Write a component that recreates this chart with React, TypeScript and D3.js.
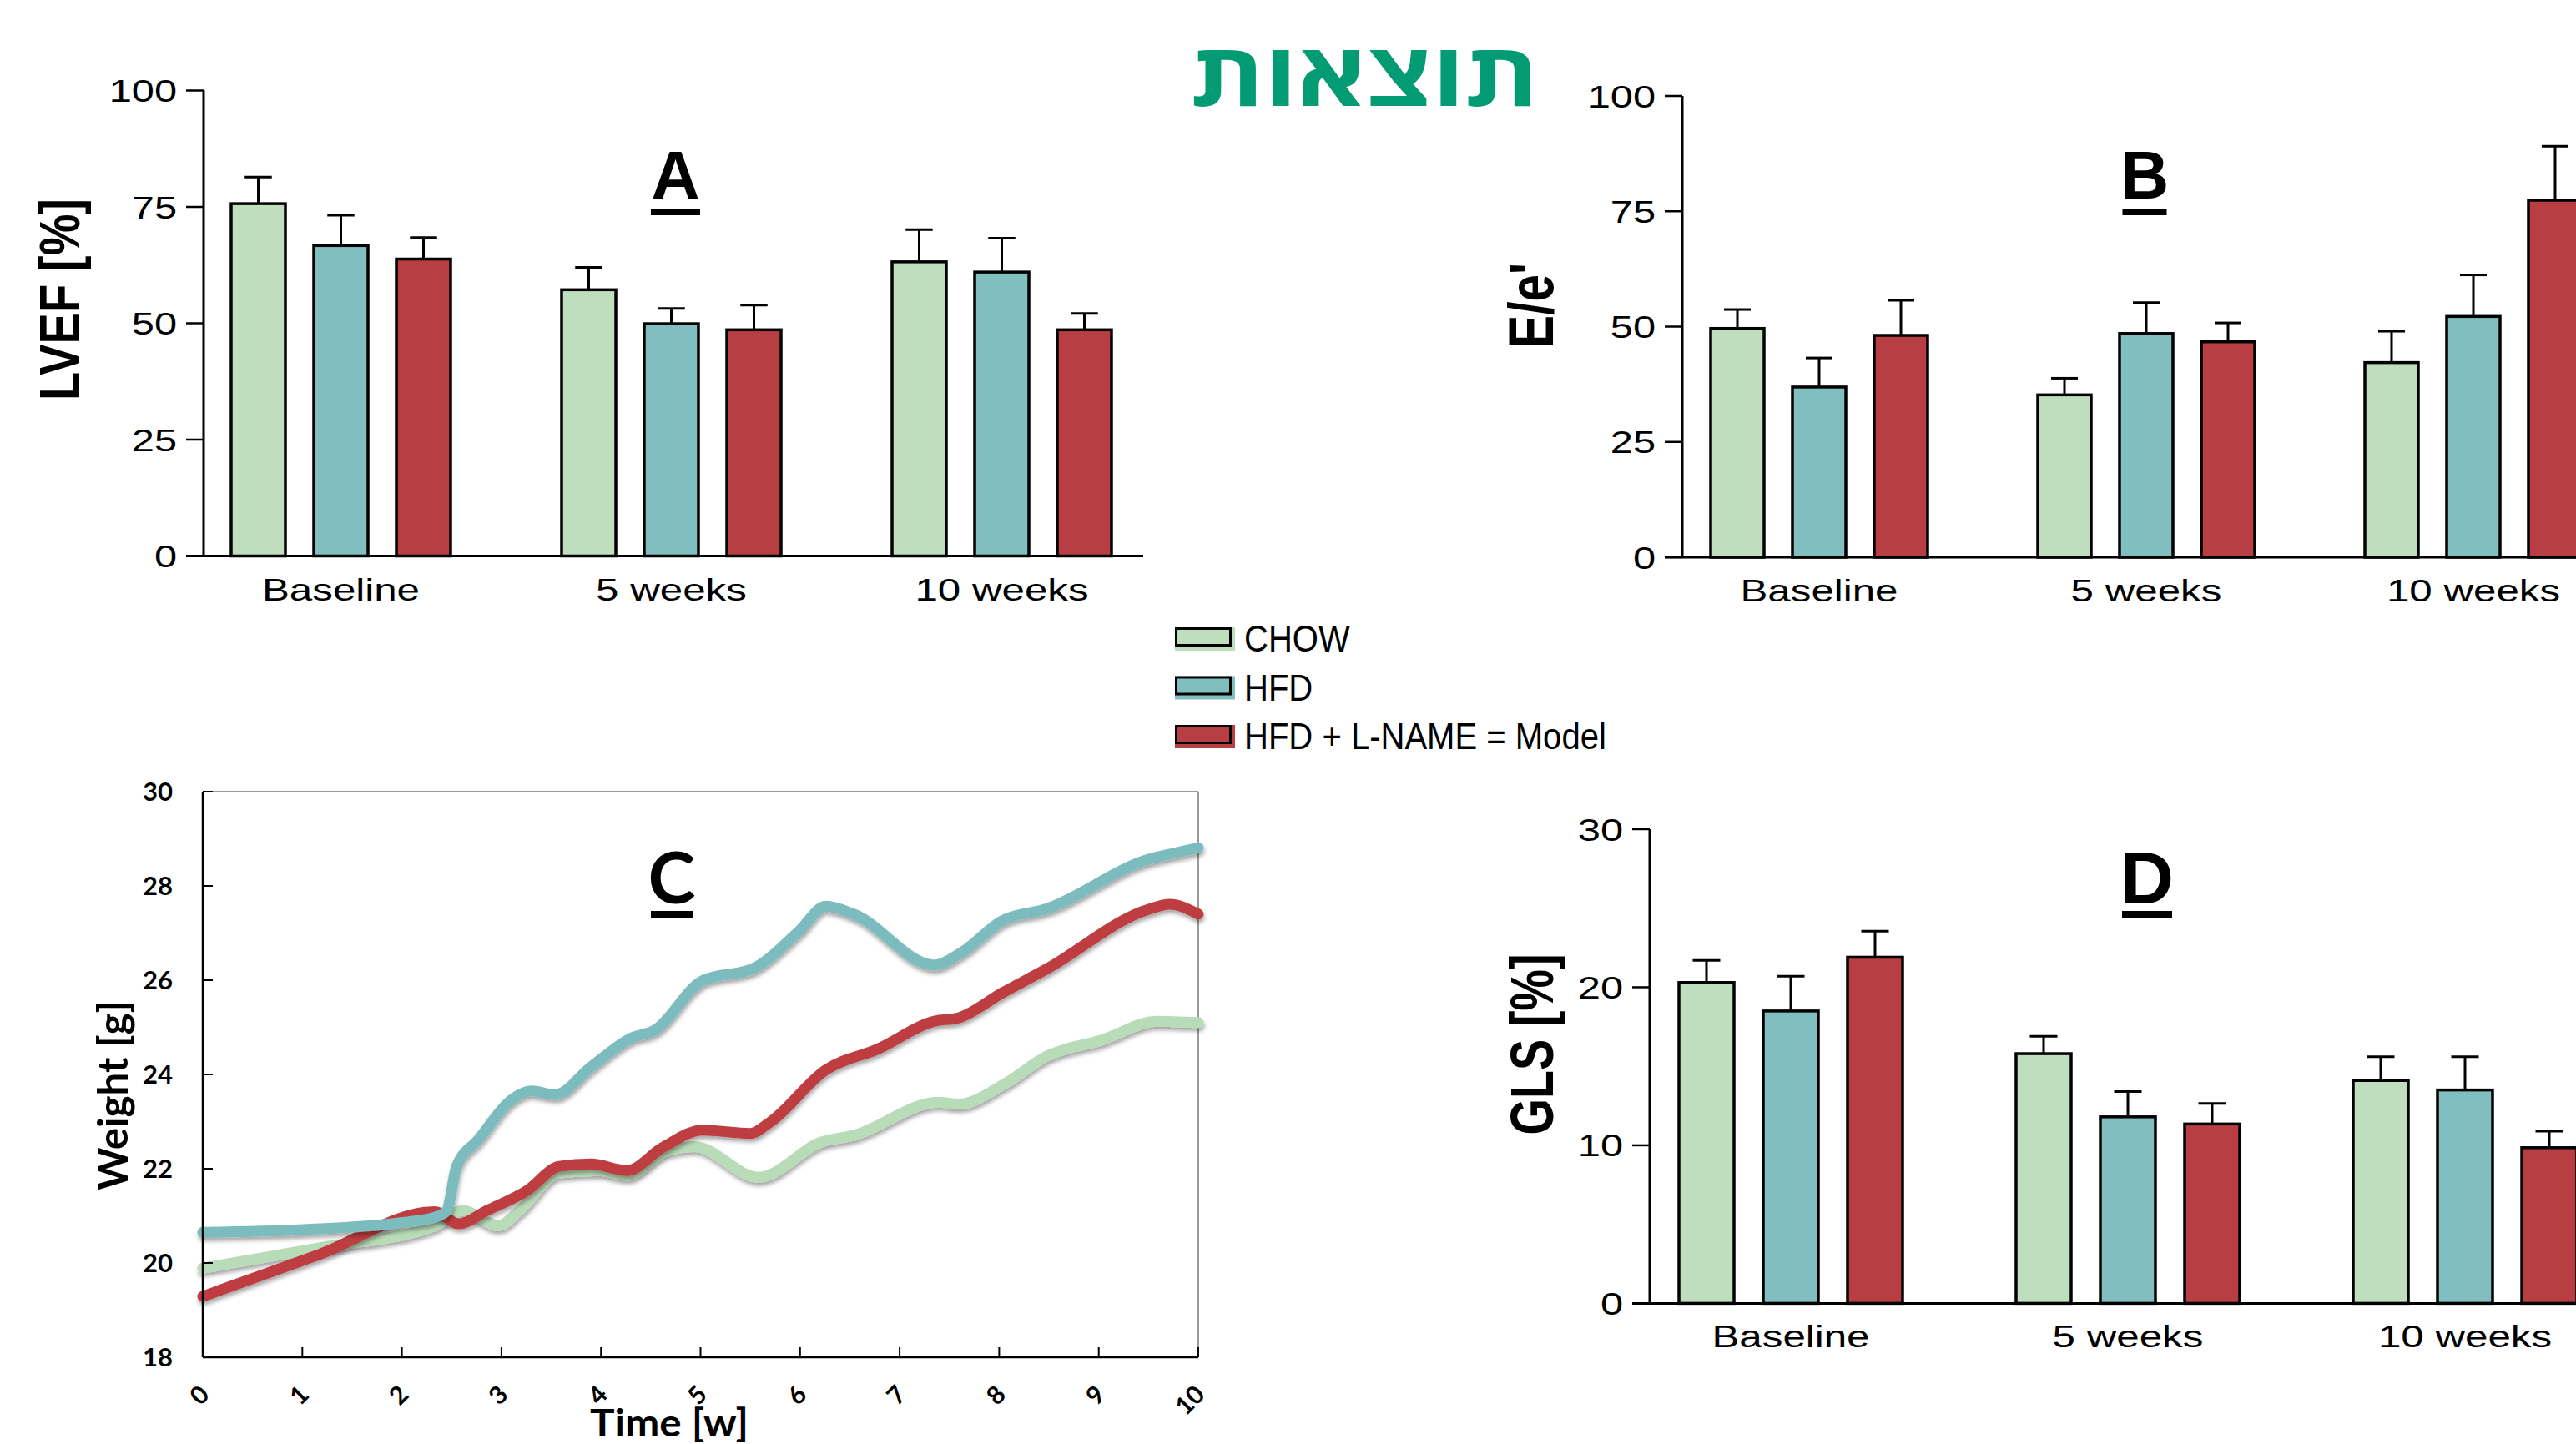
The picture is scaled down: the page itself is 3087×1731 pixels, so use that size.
import React from "react";
import * as d3 from "d3";

// ---------- DATA ----------
const categories = ["Baseline", "5 weeks", "10 weeks"];
const groupNames = ["CHOW", "HFD", "HFD + L-NAME = Model"];

// Panel A: LVEF [%]
const lvefChow = [75.7, 57.2, 63.2];
const lvefHfd = [66.7, 49.9, 61.0];
const lvefModel = [63.8, 48.6, 48.6];
const lvefChowErr = [5.7, 4.8, 6.9];
const lvefHfdErr = [6.5, 3.3, 7.3];
const lvefModelErr = [4.6, 5.3, 3.5];
const lvefTicks = [0, 25, 50, 75, 100];

// Panel B: E/e'
const eeChow = [49.6, 35.2, 42.2];
const eeHfd = [36.9, 48.5, 52.2];
const eeModel = [48.1, 46.7, 77.4];
const eeChowErr = [4.1, 3.6, 6.8];
const eeHfdErr = [6.3, 6.7, 9.0];
const eeModelErr = [7.6, 4.1, 11.7];
const eeTicks = [0, 25, 50, 75, 100];

// Panel D: GLS [%]
const glsChow = [20.3, 15.8, 14.1];
const glsHfd = [18.5, 11.8, 13.5];
const glsModel = [21.9, 11.35, 9.85];
const glsChowErr = [1.4, 1.1, 1.5];
const glsHfdErr = [2.2, 1.6, 2.1];
const glsModelErr = [1.65, 1.3, 1.05];
const glsTicks = [0, 10, 20, 30];

// Panel C: weight [g] over time [w]
const chowWeeks = [0, 1.17, 2.33, 2.61, 2.97, 3.18, 3.58, 3.98, 4.26, 4.66, 4.94, 5.58, 6.22, 6.54, 7.39, 7.59, 8.07, 8.47, 9.03, 9.59, 10];
const chowWeight = [19.89, 20.32, 20.79, 21.11, 20.79, 21.11, 21.91, 21.96, 21.86, 22.38, 22.47, 21.82, 22.57, 22.71, 23.41, 23.37, 23.82, 24.38, 24.73, 25.13, 25.1];
const hfdWeeks = [0, 1.01, 1.97, 2.33, 2.45, 2.55, 2.77, 3.1, 3.3, 3.54, 3.9, 4.3, 4.54, 5.02, 5.54, 5.98, 6.26, 6.54, 7.35, 7.63, 8.03, 8.47, 9.51, 9.75, 10];
const hfdWeight = [20.65, 20.71, 20.85, 20.97, 21.11, 22.05, 22.62, 23.46, 23.65, 23.57, 24.16, 24.77, 24.94, 25.99, 26.26, 27.02, 27.57, 27.4, 26.32, 26.6, 27.26, 27.51, 28.57, 28.69, 28.81];
const modelWeeks = [0, 1.17, 2.33, 2.57, 2.85, 3.26, 3.58, 3.9, 4.26, 4.62, 5.02, 5.5, 5.7, 6.26, 6.78, 7.35, 7.59, 8.03, 8.47, 9.51, 9.71, 10];
const modelWeight = [19.29, 20.18, 21.09, 20.83, 21.11, 21.54, 22.05, 22.1, 21.96, 22.45, 22.82, 22.75, 22.99, 24.1, 24.54, 25.13, 25.2, 25.73, 26.23, 27.51, 27.61, 27.4];
const weekTicks = [0, 1, 2, 3, 4, 5, 6, 7, 8, 9, 10];
const weightTicks = [18, 20, 22, 24, 26, 28, 30];

// ---------- STYLE ----------
const barColors = ["#BEDEBD", "#81BEBF", "#B73E42"];
const lineColors = ["#B9DCB8", "#7BBCBE", "#BD3E40"];
const titleGreen = "#039B74";
const SANS = "'Liberation Sans', Arial, sans-serif";
const LATO = "Lato, 'Open Sans', sans-serif";

type BarPanelProps = {
  means: number[][];
  errs: number[][];
  ticks: number[];
  axisX: number;
  yTop: number;
  yBottom: number;
  xEnd: number;
  groupCenter0: number;
  groupStep: number;
  barStep: number;
  barW: number;
  labelY: number;
  title: string;
  titleX: number;
  titleBase: number;
  titleSize: number;
  ulW: number;
  ulGap: number;
  yTitle: string;
  yTitleX: number;
  yTitleY: number;
  yTitleSize: number;
  yTitleLen: number;
  yTitleSx: number;
};

function BarPanel(p: BarPanelProps) {
  const yMax = p.ticks[p.ticks.length - 1];
  const y = d3.scaleLinear().domain([0, yMax]).range([p.yBottom, p.yTop]);
  const outer = d3
    .scaleBand<string>()
    .domain(categories)
    .range([p.groupCenter0 - p.groupStep * 0.5, p.groupCenter0 + p.groupStep * 2.5])
    .padding(0);
  const pin = 1 - p.barW / p.barStep;
  const inner = d3
    .scaleBand<string>()
    .domain(groupNames)
    .range([-p.barStep * 1.5, p.barStep * 1.5])
    .paddingInner(pin)
    .paddingOuter(pin / 2);
  const capW = p.barW * 0.5;
  return (
    <g>
      {categories.map((c, ci) =>
        groupNames.map((g, gi) => {
          const cx = (outer(c) as number) + outer.bandwidth() / 2;
          const bx = cx + (inner(g) as number);
          const v = p.means[gi][ci];
          const e = p.errs[gi][ci];
          const mx = bx + inner.bandwidth() / 2;
          return (
            <g key={c + g}>
              <line x1={mx} x2={mx} y1={y(v)} y2={y(v + e)} stroke="#000" strokeWidth={3} />
              <line x1={mx - capW / 2} x2={mx + capW / 2} y1={y(v + e)} y2={y(v + e)} stroke="#000" strokeWidth={3} />
              <rect
                x={bx}
                y={y(v)}
                width={inner.bandwidth()}
                height={y(0) - y(v)}
                fill={barColors[gi]}
                stroke="#000"
                strokeWidth={3.5}
              />
            </g>
          );
        })
      )}
      <line x1={p.axisX} x2={p.axisX} y1={p.yTop} y2={p.yBottom} stroke="#000" strokeWidth={3} />
      <line x1={p.axisX - 21} x2={p.xEnd} y1={p.yBottom} y2={p.yBottom} stroke="#000" strokeWidth={3} />
      {p.ticks.map((t) => (
        <g key={t}>
          <line x1={p.axisX - 21} x2={p.axisX} y1={y(t)} y2={y(t)} stroke="#000" strokeWidth={2.5} />
          <text
            transform={`translate(${p.axisX - 32},${y(t)}) scale(1.3,1)`}
            textAnchor="end"
            dy="0.36em"
            fontSize={37.5}
            fontFamily={SANS}
          >
            {t}
          </text>
        </g>
      ))}
      {categories.map((c) => {
        const cx = (outer(c) as number) + outer.bandwidth() / 2;
        return (
          <text
            key={c}
            transform={`translate(${cx},${p.labelY}) scale(1.35,1)`}
            textAnchor="middle"
            dy="0.36em"
            fontSize={36.5}
            fontFamily={SANS}
          >
            {c}
          </text>
        );
      })}
      <text x={p.titleX} y={p.titleBase} textAnchor="middle" fontSize={p.titleSize} fontWeight="bold" fontFamily={SANS}>
        {p.title}
      </text>
      <rect x={p.titleX - p.ulW / 2} y={p.titleBase + p.ulGap} width={p.ulW} height={8} fill="#000" />
      <text
        transform={`translate(${p.yTitleX},${p.yTitleY}) scale(${p.yTitleSx},1) rotate(-90)`}
        textAnchor="middle"
        dominantBaseline="central"
        fontSize={p.yTitleSize}
        fontWeight="bold"
        fontFamily={SANS}
        textLength={p.yTitleLen}
        lengthAdjust="spacingAndGlyphs"
      >
        {p.yTitle}
      </text>
    </g>
  );
}

function WeightPanel() {
  const x = d3.scaleLinear().domain([0, 10]).range([243, 1436]);
  const y = d3.scaleLinear().domain([18, 30]).range([1627, 949]);
  const line = d3
    .line<[number, number]>()
    .x((d) => x(d[0]))
    .y((d) => y(d[1]))
    .curve(d3.curveMonotoneX);
  const series: [number[], number[]][] = [
    [chowWeeks, chowWeight],
    [modelWeeks, modelWeight],
    [hfdWeeks, hfdWeight],
  ];
  const colorIdx = [0, 2, 1];
  return (
    <g>
      <defs>
        <filter id="shadow" x="-5%" y="-5%" width="110%" height="120%">
          <feDropShadow dx="1" dy="4" stdDeviation="2.5" floodColor="#000" floodOpacity="0.35" />
        </filter>
      </defs>
      <line x1={243} x2={1436} y1={949} y2={949} stroke="#9a9a9a" strokeWidth={2} />
      <line x1={1436} x2={1436} y1={949} y2={1627} stroke="#9a9a9a" strokeWidth={2} />
      {series.map(([wk, wt], i) => (
        <path
          key={i}
          d={line(wk.map((w, j) => [w, wt[j]] as [number, number])) || ""}
          fill="none"
          stroke={lineColors[colorIdx[i]]}
          strokeWidth={13}
          strokeLinejoin="round"
          strokeLinecap="round"
          filter="url(#shadow)"
        />
      ))}
      <line x1={243} x2={243} y1={949} y2={1627} stroke="#000" strokeWidth={2.5} />
      <line x1={243} x2={1436} y1={1627} y2={1627} stroke="#000" strokeWidth={2.5} />
      {weightTicks.map((t) => (
        <g key={t}>
          <line x1={243} x2={255} y1={y(t)} y2={y(t)} stroke="#000" strokeWidth={2} />
          <text x={207} y={y(t)} dy="0.36em" textAnchor="end" fontSize={31} fontWeight="bold" fontFamily={LATO}>
            {t}
          </text>
        </g>
      ))}
      {weekTicks.map((t) => (
        <g key={t}>
          <line x1={x(t)} x2={x(t)} y1={1627} y2={1615} stroke="#000" strokeWidth={2} />
          <text
            transform={`translate(${x(t) + 2},${1666}) rotate(-45)`}
            textAnchor="end"
            dy="0.36em"
            fontSize={30}
            fontWeight="bold"
            fontFamily={LATO}
          >
            {t}
          </text>
        </g>
      ))}
      <text x={802} y={1722} textAnchor="middle" fontSize={45} fontWeight="bold" fontFamily={LATO} textLength={190} lengthAdjust="spacingAndGlyphs">
        Time [w]
      </text>
      <text
        transform={`translate(153,1313) rotate(-90)`}
        textAnchor="middle"
        fontSize={50}
        fontWeight="bold"
        fontFamily={LATO}
        textLength={228}
        lengthAdjust="spacingAndGlyphs"
      >
        Weight [g]
      </text>
      <text x={805} y={1083} textAnchor="middle" fontSize={86} fontWeight="bold" fontFamily={LATO}>
        C
      </text>
      <rect x={780} y={1092} width={50} height={8} fill="#000" />
    </g>
  );
}

function Legend() {
  const x0 = 1408;
  const y0 = 752;
  const step = 58.5;
  return (
    <g>
      {groupNames.map((g, i) => (
        <g key={g}>
          <rect x={x0} y={y0 + i * step} width={72} height={28} fill={barColors[i]} />
          <rect x={x0 + 1.5} y={y0 + i * step + 1.5} width={65} height={20} fill={barColors[i]} stroke="#000" strokeWidth={3} />
          <text
            transform={`translate(${1491},${y0 + 29 + i * step}) scale(0.89,1)`}
            fontSize={45}
            fontFamily={SANS}
          >
            {g}
          </text>
        </g>
      ))}
    </g>
  );
}

export default function App() {
  return (
    <svg
      width={3087}
      height={1731}
      viewBox="0 0 3087 1731"
      style={{ position: "absolute", left: 0, top: 0, background: "#fff" }}
    >
      <rect x={0} y={0} width={3087} height={1731} fill="#fff" />
      <text
        x={1635.5}
        y={127}
        textAnchor="middle"
        fontSize={106}
        fontWeight="bold"
        fill={titleGreen}
        fontFamily="'Open Sans', 'Liberation Sans', 'DejaVu Sans', sans-serif"
        textLength={418}
        lengthAdjust="spacingAndGlyphs"
      >
        תוצאות
      </text>
      <BarPanel
        means={[lvefChow, lvefHfd, lvefModel]}
        errs={[lvefChowErr, lvefHfdErr, lvefModelErr]}
        ticks={lvefTicks}
        axisX={244}
        yTop={108.5}
        yBottom={666.5}
        xEnd={1370}
        groupCenter0={408.5}
        groupStep={396}
        barStep={99}
        barW={65}
        labelY={707}
        title="A"
        titleX={809.5}
        titleBase={237.5}
        titleSize={81}
        ulW={59}
        ulGap={12.5}
        yTitle="LVEF [%]"
        yTitleX={71}
        yTitleY={359}
        yTitleSize={55}
        yTitleLen={242}
        yTitleSx={1.25}
      />
      <BarPanel
        means={[eeChow, eeHfd, eeModel]}
        errs={[eeChowErr, eeHfdErr, eeModelErr]}
        ticks={eeTicks}
        axisX={2016}
        yTop={115}
        yBottom={668}
        xEnd={3087}
        groupCenter0={2180}
        groupStep={392}
        barStep={98}
        barW={64}
        labelY={708}
        title="B"
        titleX={2570}
        titleBase={237.5}
        titleSize={81}
        ulW={53}
        ulGap={12.5}
        yTitle="E/e'"
        yTitleX={1835}
        yTitleY={366}
        yTitleSize={58}
        yTitleLen={102}
        yTitleSx={1.3}
      />
      <BarPanel
        means={[glsChow, glsHfd, glsModel]}
        errs={[glsChowErr, glsHfdErr, glsModelErr]}
        ticks={glsTicks}
        axisX={1977}
        yTop={994}
        yBottom={1562.4}
        xEnd={3087}
        groupCenter0={2146}
        groupStep={404}
        barStep={101}
        barW={66}
        labelY={1602}
        title="D"
        titleX={2573}
        titleBase={1083}
        titleSize={89}
        ulW={60}
        ulGap={9}
        yTitle="GLS [%]"
        yTitleX={1836}
        yTitleY={1252}
        yTitleSize={56}
        yTitleLen={217}
        yTitleSx={1.3}
      />
      <WeightPanel />
      <Legend />
    </svg>
  );
}
